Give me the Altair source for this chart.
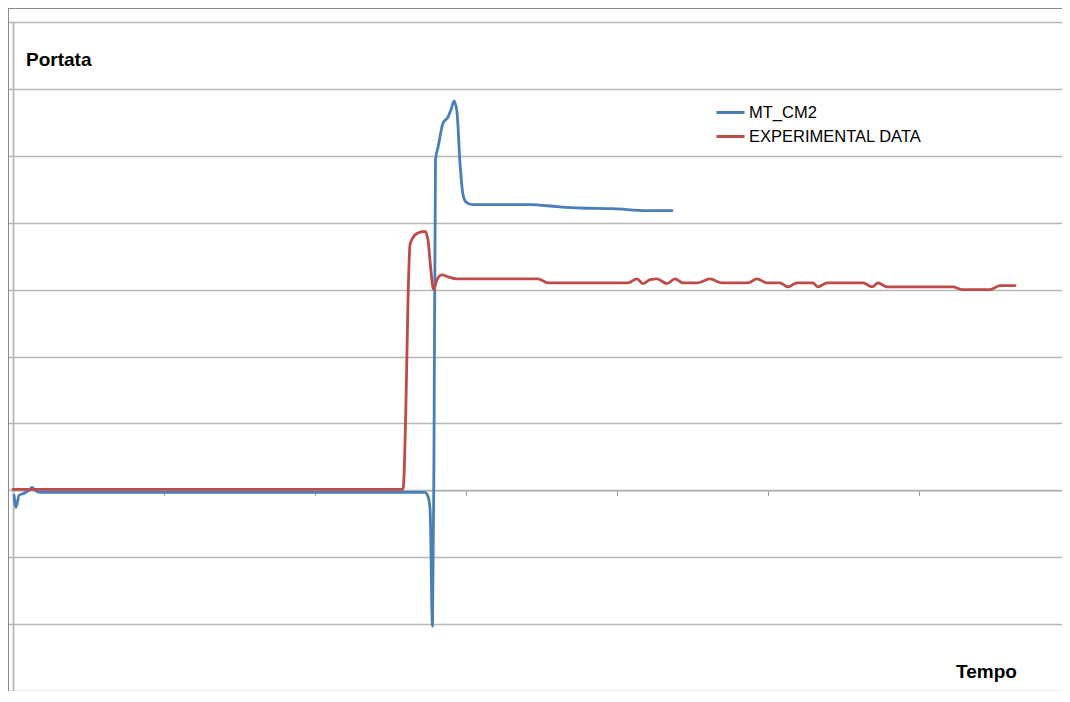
import altair as alt
import pandas as pd

# ---- data (x in tick units, y in gridline units) ----
series_names = ["MT_CM2", "EXPERIMENTAL DATA"]
series_colors = ["#4a7ebb", "#be4b48"]

t_blue = [0.007, 0.020, 0.040, 0.073, 0.106, 0.126, 0.146, 0.179, 2.728, 2.748, 2.762,
          2.778, 2.788, 2.798, 2.815, 2.848, 2.881, 2.901, 2.921, 2.940, 2.960, 2.980,
          3.000, 3.040, 3.093, 3.311, 3.424, 3.603, 3.755, 3.974, 4.199, 4.364]
q_blue = [-0.075, -0.254, -0.075, -0.045, 0.0, 0.045, 0.0, -0.03, -0.03, -0.09, -0.28,
          -2.03, 0.61, 4.94, 5.13, 5.49, 5.58, 5.69, 5.82, 5.66, 4.90, 4.42,
          4.31, 4.27, 4.27, 4.27, 4.27, 4.24, 4.22, 4.21, 4.18, 4.18]

t_red = [0.0, 2.583, 2.603, 2.616, 2.629, 2.642, 2.675, 2.728, 2.748, 2.762, 2.785,
         2.808, 2.841, 2.881, 2.940, 3.477, 3.543, 4.073, 4.132, 4.172, 4.219, 4.265,
         4.331, 4.384, 4.437, 4.530, 4.616, 4.695, 4.868, 4.927, 4.993, 5.079, 5.132,
         5.192, 5.298, 5.331, 5.391, 5.629, 5.689, 5.728, 5.788, 6.225, 6.285, 6.470,
         6.536, 6.636]
q_red = [0.015, 0.015, 1.36, 2.85, 3.67, 3.75, 3.84, 3.87, 3.75, 3.42, 3.00,
         3.15, 3.22, 3.19, 3.16, 3.16, 3.10, 3.10, 3.16, 3.09, 3.15, 3.16,
         3.09, 3.16, 3.10, 3.10, 3.16, 3.10, 3.10, 3.16, 3.10, 3.10, 3.04,
         3.10, 3.10, 3.04, 3.10, 3.10, 3.04, 3.10, 3.04, 3.04, 3.00, 3.00,
         3.06, 3.06]

x_ticks = [0, 1, 2, 3, 4, 5, 6]
x_max = 6.947
y_ticks = [-3, -2, -1, 0, 1, 2, 3, 4, 5, 6, 7]
y_label = "Portata"
x_label = "Tempo"

# ---- build table ----
rows = []
for i, (t, q) in enumerate(zip(t_blue, q_blue)):
    rows.append({"t": t, "q": q, "series": series_names[0], "i": i})
for i, (t, q) in enumerate(zip(t_red, q_red)):
    rows.append({"t": t, "q": q, "series": series_names[1], "i": i})
df = pd.DataFrame(rows)

W, H = 1049, 669
grid_col = "#b7b7b7"
FONT = "Liberation Sans"

x_scale = alt.Scale(domain=[x_ticks[0], x_max], nice=False, zero=False)
y_scale = alt.Scale(domain=[y_ticks[0], y_ticks[-1]], nice=False, zero=False)
zero_offset = -H * (0 - y_ticks[0]) / (y_ticks[-1] - y_ticks[0])

lines = alt.Chart(df).mark_line(strokeWidth=2.8, interpolate="monotone",
                                strokeCap="round", strokeJoin="round").encode(
    x=alt.X("t:Q", scale=x_scale,
            axis=alt.Axis(values=x_ticks, labels=False, title=None, grid=False,
                          domainColor="#b0b0b0", domainWidth=1.5,
                          tickColor="#999999", tickSize=5, tickWidth=1,
                          offset=zero_offset)),
    y=alt.Y("q:Q", scale=y_scale,
            axis=alt.Axis(values=y_ticks, labels=False, title=None, grid=True,
                          gridColor=grid_col, gridWidth=1.6,
                          domainColor=grid_col, domainWidth=1.8,
                          tickColor=grid_col, tickSize=6, tickWidth=1.6)),
    color=alt.Color("series:N",
                    scale=alt.Scale(domain=series_names, range=series_colors),
                    legend=alt.Legend(orient="none", legendX=702, legendY=75,
                                      title=None, padding=0,
                                      symbolType="stroke", symbolSize=784,
                                      symbolStrokeWidth=3, labelFont=FONT,
                                      labelFontSize=16.5, labelColor="#000000",
                                      labelOffset=3, rowPadding=0, labelLimit=0)),
    order="i:Q",
)

ylab = alt.Chart(pd.DataFrame({"label": [y_label]})).mark_text(
    align="left", baseline="alphabetic", font=FONT, fontSize=19,
    fontWeight="bold", color="#000000").encode(
    x=alt.value(13), y=alt.value(44), text="label:N")

xlab = alt.Chart(pd.DataFrame({"label": [x_label]})).mark_text(
    align="left", baseline="alphabetic", font=FONT, fontSize=19,
    fontWeight="bold", color="#000000").encode(
    x=alt.value(943), y=alt.value(656), text="label:N")

frame_v = alt.Chart(alt.Data(values=[{}])).mark_rule(
    color="#8a8a8a", strokeWidth=1).encode(
    x=alt.value(-4.5), y=alt.value(-14), y2=alt.value(H))
frame_h = alt.Chart(alt.Data(values=[{}])).mark_rule(
    color="#8a8a8a", strokeWidth=1).encode(
    x=alt.value(-5), x2=alt.value(W), y=alt.value(-13.5))

chart = alt.layer(frame_v, frame_h, lines, ylab, xlab).properties(
    width=W, height=H,
    autosize=alt.AutoSizeParams(type="none"),
    padding={"left": 5, "top": 14, "right": 0, "bottom": 0},
    background="#ffffff",
).configure_view(stroke="transparent")

chart.save("out.html", embed_options={"renderer": "svg", "actions": False})
